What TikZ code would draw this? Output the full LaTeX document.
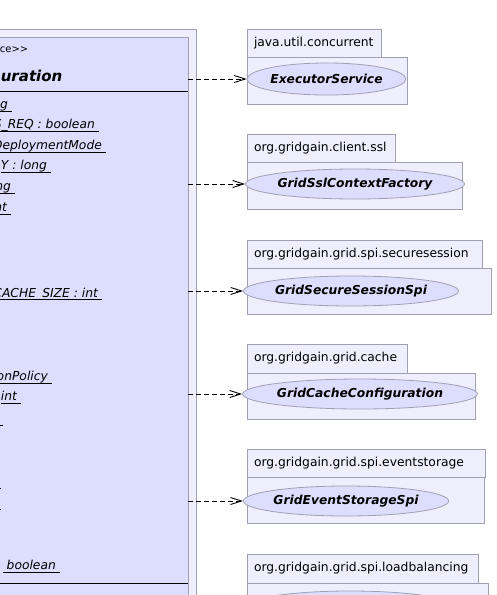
\documentclass[tikz,border=0pt]{standalone}
\usepackage{fontspec}
\setmainfont{DejaVu Sans}[ItalicFont={DejaVu Sans Oblique},BoldFont={DejaVu Sans Bold},BoldItalicFont={DejaVu Sans Bold Oblique}]
\usetikzlibrary{positioning,arrows.meta,shapes.geometric}

\definecolor{pkgfill}{HTML}{EEEEFD}
\definecolor{clsfill}{HTML}{DDDDFD}
\definecolor{pkgline}{HTML}{A0A0B4}

% static attribute: oblique, underlined up to a trailing space
\newcommand\statattr[1]{\setbox0=\hbox{#1\ }\rlap{\rule[-3pt]{\wd0}{0.9pt}}\box0}

\begin{document}
\begin{tikzpicture}[x=1pt,y=-1pt,
    pkg body/.style={rectangle, draw=pkgline, fill=pkgfill, line width=1pt, inner sep=0pt, outer sep=0pt},
    pkg tab/.style={pkg body, inner xsep=7pt, text width=#1, align=left, minimum height=28pt, font=\fontsize{12.3}{14}\selectfont},
    class box/.style={rectangle, draw=pkgline, fill=clsfill, line width=1pt, inner sep=0pt, outer sep=0pt},
    iface node/.style={ellipse, draw=pkgline, fill=clsfill, line width=0.8pt, inner sep=0pt, minimum height=30pt, font=\fontsize{12.3}{14}\selectfont\bfseries\itshape},
    attr/.style={anchor=base east, inner sep=0pt, font=\fontsize{12.3}{14}\selectfont\itshape},
    dep/.style={dash pattern=on 5pt off 3pt, line width=0.9pt, -{Straight Barb[length=11pt,width=7pt]}}]
        \useasboundingbox (0,0) rectangle (496,595);
        \clip (0,0) rectangle (496,595);

          % interface class and its package
          \node[pkg body, anchor=north east, minimum width=620pt, minimum height=800pt] (pk) at (196,29) {};
          \node[class box, anchor=north east, minimum width=600pt, minimum height=800pt] (cls) at (188,37) {};
          \node[anchor=base east, inner sep=0pt, font=\fontsize{10}{12}\selectfont] (st) at (28.5,52) {ce{>}{>}};
          \node[anchor=base east, inner sep=0pt, font=\fontsize{15}{18}\selectfont\bfseries\itshape] (nm) at (62.5,81) {uration};
          \draw[line width=1pt] (-5,91) -- (187.5,91);
          \draw[line width=1pt] (-5,583) -- (187.5,583);

          \node[attr] (a0) at (12,108.5) {\statattr{g}};
          \node[attr] (a1) at (99,128.5) {\statattr{S\_REQ : boolean}};
          \node[attr] (a2) at (106,149.5) {\statattr{DeploymentMode}};
          \node[attr] (a3) at (51,169.5) {\statattr{Y : long}};
          \node[attr] (a4) at (15,190.5) {\statattr{ng}};
          \node[attr] (a5) at (11,211.5) {\statattr{nt}};
          \node[attr] (a9) at (102,297) {\statattr{CACHE\_SIZE : int}};
          \node[attr] (a13) at (52,380.5) {\statattr{onPolicy}};
          \node[attr] (a14) at (21,400.5) {\statattr{int}};
          \node[attr] (a22) at (60,569.5) {\statattr{\ boolean}};
          \draw[line width=0.9pt] (-5,425) -- (2.5,425);
          \draw[line width=0.9pt] (-5,488) -- (0.8,488);
          \draw[line width=0.9pt] (-5,509) -- (0.8,509);

          % packages on the right
          \node[pkg body, anchor=north west, minimum width=160pt, minimum height=47pt] (b1) at (247,57) {};
          \node[pkg body, anchor=north west, minimum width=215pt, minimum height=47pt] (b2) at (247,162) {};
          \node[pkg body, anchor=north west, minimum width=244pt, minimum height=46pt] (b3) at (247,268) {};
          \node[pkg body, anchor=north west, minimum width=228pt, minimum height=46pt] (b4) at (247,373) {};
          \node[pkg body, anchor=north west, minimum width=237pt, minimum height=46pt] (b5) at (247,477) {};
          \node[pkg body, anchor=north west, minimum width=241pt, minimum height=60pt] (b6) at (247,583) {};

          \node[pkg tab=120pt] (t1) [above right=0pt of b1.north west] {java.util.concurrent};
          \node[pkg tab=134pt] (t2) [above right=0pt of b2.north west] {org.gridgain.client.ssl};
          \node[pkg tab=221pt] (t3) [above right=0pt of b3.north west] {org.gridgain.grid.spi.securesession};
          \node[pkg tab=146pt, minimum height=29pt] (t4) [above right=0pt of b4.north west] {org.gridgain.grid.cache};
          \node[pkg tab=224pt] (t5) [above right=0pt of b5.north west] {org.gridgain.grid.spi.eventstorage};
          \node[pkg tab=217pt, minimum height=29pt] (t6) [above right=0pt of b6.north west] {org.gridgain.grid.spi.loadbalancing};

          \node[iface node, minimum width=145pt, minimum height=32pt] (i1) at (326.5,79) {ExecutorService};
          \node[iface node, minimum width=200pt] (i2) at (355,184) {GridSslContextFactory};
          \node[iface node, minimum width=194pt] (i3) at (351,291) {GridSecureSessionSpi};
          \node[iface node, minimum width=212pt] (i4) at (360,394) {GridCacheConfiguration};
          \node[iface node, minimum width=184pt] (i5) at (346,501) {GridEventStorageSpi};
          \node[iface node, minimum width=206pt] (i6) at (350,606) {};

          \path[dep]
            (cls.east |- i1) edge (i1)
            (cls.east |- i2) edge (i2)
            (cls.east |- i3) edge (i3)
            (cls.east |- i4) edge (i4)
            (cls.east |- i5) edge (i5);

        \end{tikzpicture}
\end{document}
